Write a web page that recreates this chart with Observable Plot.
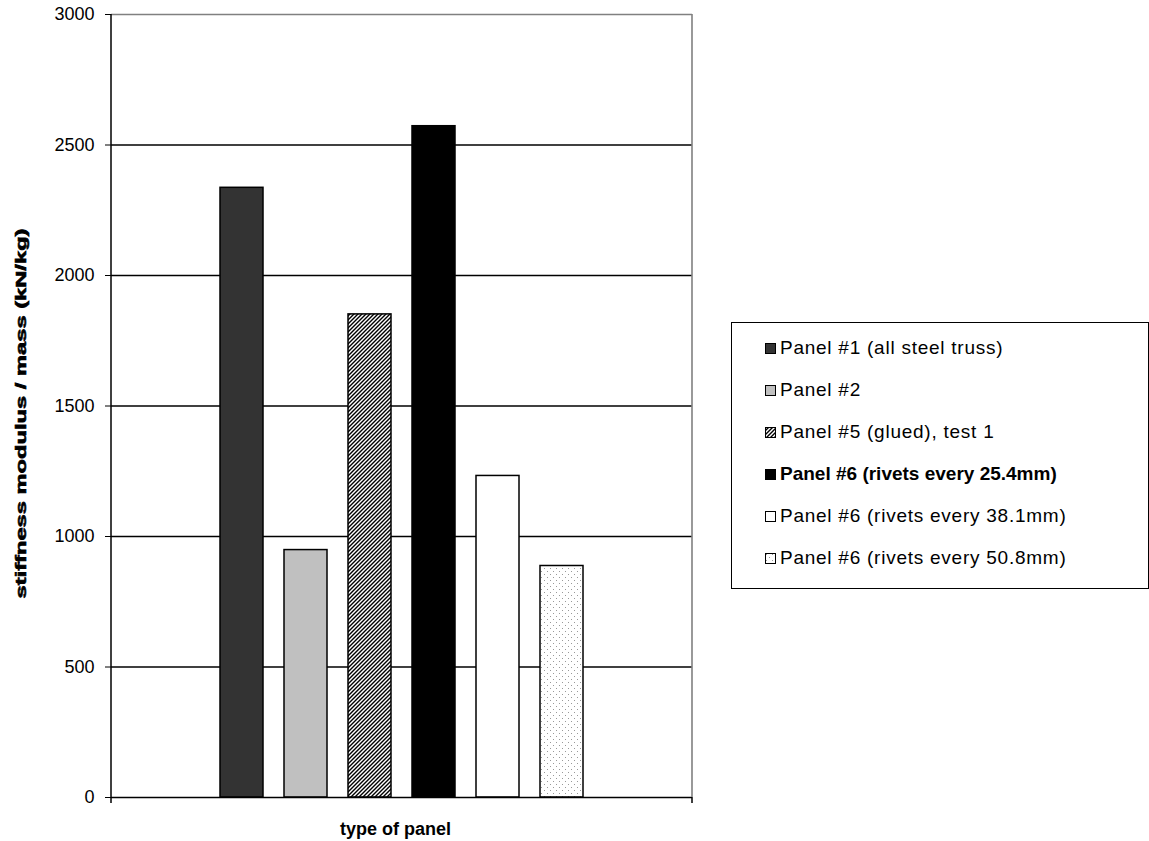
<!DOCTYPE html>
<html>
<head>
<meta charset="utf-8">
<script src="https://cdn.jsdelivr.net/npm/d3@7"></script>
<script src="https://cdn.jsdelivr.net/npm/@observablehq/plot@0.6"></script>
<style>
  body { margin: 0; background: #fff; font-family: "Liberation Sans", Arial, sans-serif; }
  #wrap { position: relative; width: 1149px; height: 841px; overflow: hidden; }
  #legend { position: absolute; left: 731px; top: 322px; width: 418px; height: 267px;
            box-sizing: border-box; border: 1px solid #000; background: #fff; }
  .row { position: absolute; left: 33px; display: flex; align-items: center; height: 24px;
         margin-top: -12px; font-size: 19px; white-space: nowrap; color: #000; letter-spacing: 0.75px; }
  .row svg { margin-right: 4px; flex: none; }
  .row.bold { font-weight: bold; letter-spacing: 0px; }
</style>
</head>
<body>
<svg width="0" height="0" style="position:absolute">
  <defs>
    <pattern id="hatch" width="4" height="4" patternUnits="userSpaceOnUse">
      <rect width="4" height="4" fill="#fff"/>
      <path d="M-1,1 l2,-2 M0,4 l4,-4 M3,5 l2,-2" stroke="#000" stroke-width="1.4"/>
    </pattern>
    <pattern id="dots" width="6" height="6" patternUnits="userSpaceOnUse">
      <rect width="6" height="6" fill="#fff"/>
      <rect x="1" y="1" width="1" height="1" fill="#999"/>
      <rect x="4" y="4" width="1" height="1" fill="#999"/>
    </pattern>
  </defs>
</svg>
<div id="wrap">
  <div id="chart"></div>
  <div id="legend"></div>
</div>
<script>
// Stiffness modulus per unit mass of each sandwich panel type
const panels = [
  "Panel #1 (all steel truss)",
  "Panel #2",
  "Panel #5 (glued), test 1",
  "Panel #6 (rivets every 25.4mm)",
  "Panel #6 (rivets every 38.1mm)",
  "Panel #6 (rivets every 50.8mm)"
];
const stiffnessPerMass = [2336, 948, 1851, 2572, 1232, 887];
const yTicks = [0, 500, 1000, 1500, 2000, 2500, 3000];

// Fill for each panel's bar and legend swatch
const panelFills = ["#333333", "#c0c0c0", "url(#hatch)", "#000000", "#ffffff", "url(#dots)"];
const boldPanels = ["Panel #6 (rivets every 25.4mm)"];

const table = panels.map((panel, i) => ({panel, value: stiffnessPerMass[i], fill: panelFills[i]}));

const chart = Plot.plot({
  width: 1149,
  height: 841,
  marginLeft: 111,
  marginRight: 457,
  marginTop: 14,
  marginBottom: 44,
  style: {fontFamily: "'Liberation Sans', Arial, sans-serif", fontSize: "18px", color: "#000", background: "transparent"},
  x: {type: "band", domain: panels, paddingInner: 0.327, paddingOuter: 1.65, axis: null},
  y: {domain: [0, 3000], ticks: yTicks, tickSize: 6, tickPadding: 11, tickFormat: d => String(d), label: null},
  color: {type: "identity"},
  marks: [
    Plot.ruleY(yTicks.filter(v => v > 0 && v < 3000), {stroke: "#000", strokeWidth: 1.3}),
    Plot.ruleY([3000], {stroke: "#808080", strokeWidth: 1.6}),
    Plot.barY(table, {x: "panel", y: "value", fill: "fill", stroke: "#000", strokeWidth: 1.5}),
    Plot.ruleY([0], {stroke: "#000", strokeWidth: 1.5})
  ]
});
document.getElementById("chart").append(chart);

// Axis lines, end ticks and titles placed from the chart's own scales
const sx = chart.scale("x"), sy = chart.scale("y");
const [x0, x1] = sx.range;
const [yb, yt] = sy.range;
const svg = d3.select(chart);
svg.append("line").attr("x1", x1).attr("x2", x1).attr("y1", yt).attr("y2", yb)
  .attr("stroke", "#808080").attr("stroke-width", 1.6);
svg.append("line").attr("x1", x0).attr("x2", x0).attr("y1", yt).attr("y2", yb + 6)
  .attr("stroke", "#000").attr("stroke-width", 1.5);
svg.append("line").attr("x1", x1).attr("x2", x1).attr("y1", yb).attr("y2", yb + 6)
  .attr("stroke", "#000").attr("stroke-width", 1.5);

svg.append("text")
  .attr("transform", `translate(21,${(yt + yb) / 2 + 8}) rotate(-90)`)
  .attr("text-anchor", "middle").attr("dominant-baseline", "central")
  .attr("font-weight", "bold").attr("font-size", 14)
  .attr("stroke", "#000").attr("stroke-width", 0.6)
  .attr("textLength", 370).attr("lengthAdjust", "spacingAndGlyphs")
  .text("stiffness modulus / mass (kN/kg)");

svg.append("text")
  .attr("x", (x0 + x1) / 2 - 6).attr("y", yb + 32)
  .attr("text-anchor", "middle").attr("dominant-baseline", "central")
  .attr("font-weight", "bold").attr("font-size", 18)
  .text("type of panel");

// Legend
const legend = d3.select("#legend");
panels.forEach((p, i) => {
  const row = legend.append("div")
    .attr("class", "row" + (boldPanels.includes(p) ? " bold" : ""))
    .style("top", `${25 + 42 * i}px`);
  const sw = row.append("svg").attr("width", 11).attr("height", 11);
  sw.append("rect").attr("x", 0.5).attr("y", 0.5).attr("width", 10).attr("height", 10)
    .attr("fill", panelFills[i]).attr("stroke", "#000").attr("stroke-width", 1);
  row.append("span").text(p);
});
</script>
</body>
</html>
